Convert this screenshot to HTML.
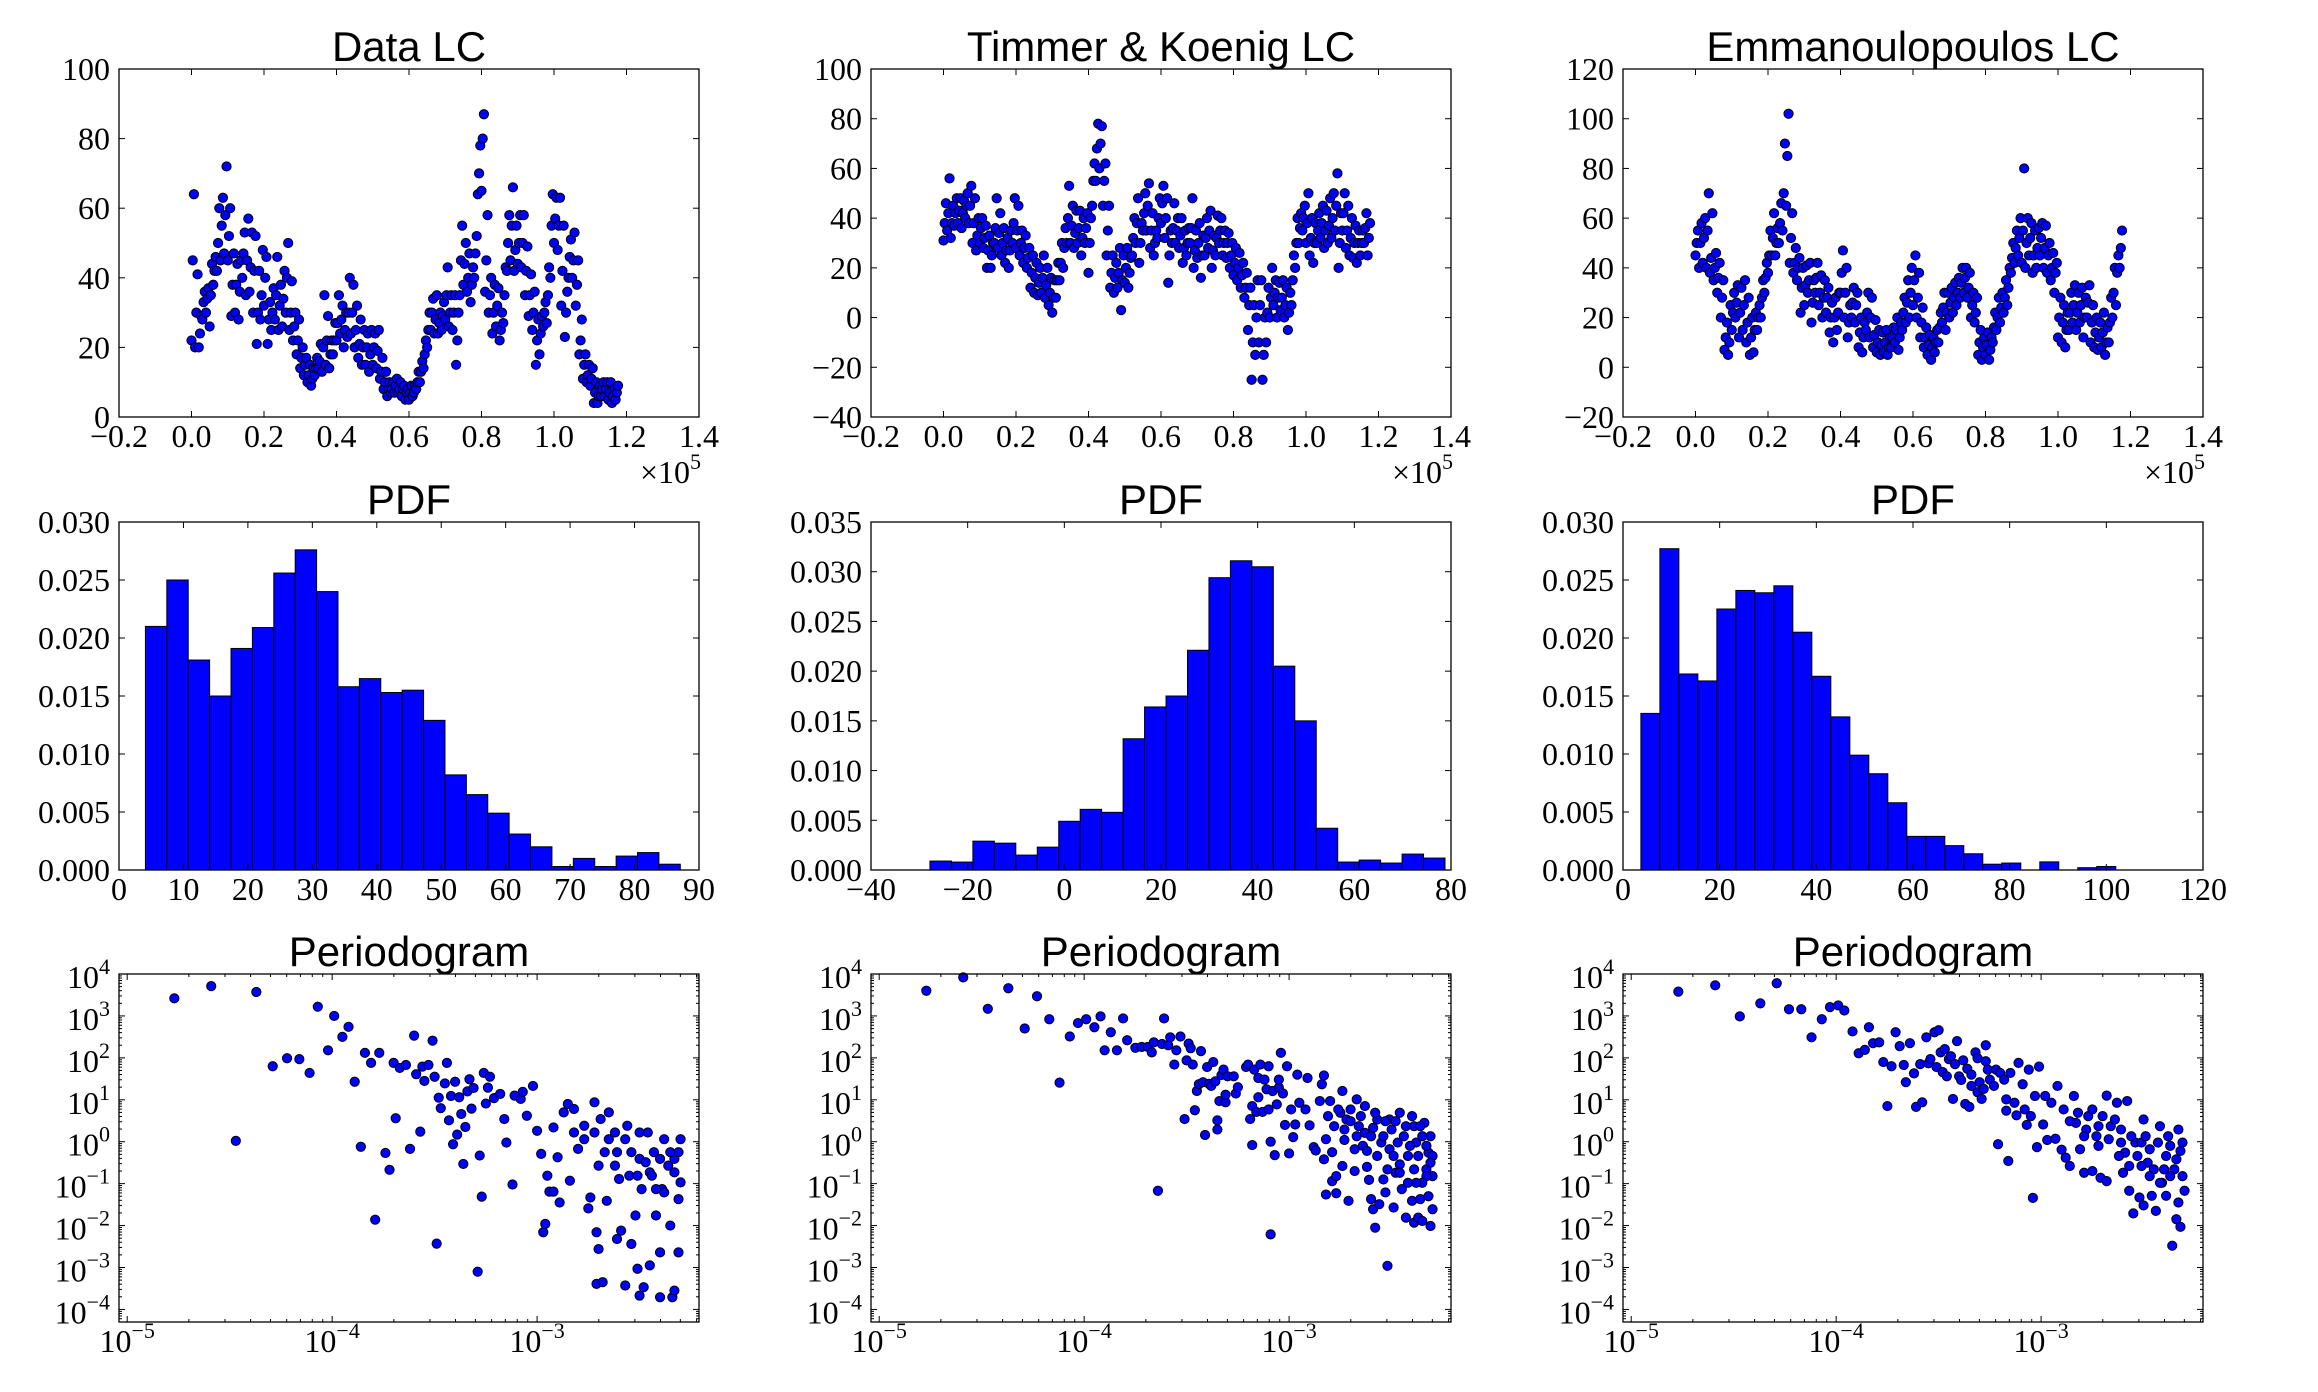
<!DOCTYPE html>
<html>
<head>
<meta charset="utf-8">
<style>
  html,body{margin:0;padding:0;background:#fff;}
  svg{display:block;}
  .tk{font-family:"Liberation Serif",serif;font-size:32px;fill:#000;}
  .ttl{font-family:"Liberation Sans",sans-serif;font-size:42px;fill:#000;}
</style>
</head>
<body>
<svg id="fig" width="2318" height="1392" viewBox="0 0 2318 1392" xmlns="http://www.w3.org/2000/svg">
  <rect x="0" y="0" width="2318" height="1392" fill="#fff"/>
</svg>
<script>
// ---------- DATA ----------
const lcStep = 1000/3;
const dataLC = [22,45,64,20,30,41,20,24,29,28,33,36,30,34,37,26,35,44,38,42,46,42,50,60,45,55,63,47,58,72,45,52,60,29,38,47,30,38,44,28,36,45,40,47,53,35,45,57,36,43,53,30,42,52,21,30,42,28,35,48,32,40,46,21,28,33,25,30,37,28,35,46,25,32,38,26,34,42,30,40,50,25,30,39,22,26,30,18,22,28,14,17,20,12,15,17,10,12,15,9,11,14,12,14,17,14,16,21,13,20,35,15,22,29,14,18,22,18,22,27,22,27,35,24,28,32,20,25,30,23,30,40,24,30,38,20,25,32,17,21,28,15,20,25,15,20,24,13,18,25,15,20,24,14,19,25,11,13,17,8,10,13,6,8,10,7,8,10,7,9,11,7,8,10,6,8,9,5,7,8,5,7,9,6,7,9,8,10,13,10,13,16,14,18,22,20,25,30,25,30,34,24,28,35,24,27,30,25,29,33,28,35,43,26,30,35,25,30,35,15,22,30,35,45,55,38,44,50,36,40,47,33,38,43,40,47,52,64,70,78,65,80,87,36,45,58,30,35,40,24,30,38,26,32,37,22,25,30,27,35,43,42,50,58,45,55,66,42,48,55,44,50,58,43,50,58,35,42,49,29,35,41,25,30,36,15,22,28,18,24,29,26,30,33,27,35,43,40,55,64,50,57,63,48,55,63,32,42,55,23,30,36,40,46,51,40,45,53,32,38,45,18,22,28,11,15,18,10,12,15,9,11,14,4,7,10,4,6,9,6,8,10,6,8,10,5,7,10,4,6,8,5,7,9];
const tkLC = [31,38,46,35,42,56,32,38,45,37,42,48,38,43,48,36,42,47,40,45,50,38,45,53,30,38,48,27,33,40,30,36,40,28,32,37,20,27,33,20,25,30,30,36,48,28,34,42,25,30,36,22,27,32,20,27,35,30,38,48,28,35,45,25,30,35,22,28,33,20,24,28,12,18,25,10,16,22,9,14,20,10,16,25,8,13,20,5,10,16,2,8,15,8,15,22,15,22,30,20,28,36,30,40,53,30,37,45,28,34,43,30,36,43,25,32,40,30,36,42,18,30,40,45,55,62,55,68,78,60,70,77,45,55,62,25,35,45,12,18,25,10,16,22,12,18,28,3,15,25,14,20,28,12,18,24,25,32,40,30,38,48,22,30,38,35,42,50,35,45,54,28,35,42,25,30,35,32,40,48,38,46,53,32,40,48,14,25,35,30,36,46,30,35,40,28,33,40,22,28,35,25,30,36,30,36,48,20,27,35,24,30,38,16,25,33,25,32,40,28,35,43,20,27,33,25,32,41,30,35,40,25,30,35,24,30,34,20,25,30,17,22,28,15,20,26,12,17,22,8,12,18,-5,5,12,-25,-10,5,-15,0,15,-10,5,15,-25,-15,0,-10,2,12,0,8,20,5,10,15,0,8,14,3,8,15,0,5,12,-5,2,10,5,15,25,20,30,40,30,36,42,35,40,45,30,38,50,25,32,40,22,30,38,30,35,42,32,38,45,28,35,43,30,37,48,32,40,50,35,45,58,20,30,42,35,42,50,28,35,45,25,32,40,24,30,37,22,30,35,25,30,35,30,36,42,25,32,38];
const emLC = [45,50,55,40,50,58,42,52,60,40,55,70,38,44,62,35,40,46,30,36,42,20,28,35,7,12,18,5,10,25,15,22,30,20,26,33,12,22,32,15,25,35,10,18,28,5,12,20,6,15,22,15,20,25,20,28,35,30,36,42,38,45,55,45,52,62,45,50,56,50,58,66,55,70,90,65,85,102,42,52,62,38,42,48,35,40,44,22,32,40,25,33,41,30,35,42,18,26,35,30,36,42,25,30,37,20,28,35,22,28,32,14,20,26,10,20,28,15,22,30,30,38,47,20,30,40,12,18,25,20,26,32,18,25,30,8,14,20,6,12,18,15,22,30,12,20,28,8,13,19,6,10,15,5,9,14,6,10,15,5,8,12,8,12,16,10,15,20,7,12,18,15,22,28,18,26,35,20,30,40,25,35,45,20,28,38,12,18,24,8,12,16,5,9,13,3,8,12,6,10,15,10,16,22,18,24,30,15,22,30,20,26,32,22,28,34,25,30,36,28,34,40,30,36,40,28,32,38,20,25,30,18,22,28,5,10,15,3,8,12,5,9,14,3,7,12,10,16,22,15,20,28,18,24,30,22,28,35,25,32,40,38,44,50,42,48,55,45,52,60,42,55,80,40,50,60,45,52,58,38,45,55,40,48,56,45,52,58,40,48,57,38,45,50,35,40,46,30,38,42,12,20,28,10,18,25,8,15,22,15,22,30,18,25,33,15,22,30,18,25,32,12,20,28,20,26,33,10,18,25,8,14,20,7,12,18,8,14,22,5,10,16,10,18,28,20,30,40,25,38,45,40,48,55];

const dataBinStart = 4.1, dataBinWidth = 3.32;
const dataPDF = [0.0210,0.0250,0.0181,0.0150,0.0191,0.0209,0.0256,0.0276,0.0240,0.0158,0.0165,0.0153,0.0155,0.0129,0.0082,0.0065,0.0049,0.0031,0.0020,0.0003,0.0010,0.0003,0.0012,0.0015,0.0005];
const tkBinStart = -27.8, tkBinWidth = 4.44;
const tkPDF = [0.0009,0.0008,0.0029,0.0027,0.0015,0.0023,0.0049,0.0061,0.0058,0.0132,0.0164,0.0175,0.0221,0.0294,0.0311,0.0305,0.0205,0.0150,0.0042,0.0008,0.0010,0.0007,0.0016,0.0012];
const emBinStart = 3.7, emBinWidth = 3.93;
const emPDF = [0.0135,0.0277,0.0169,0.0163,0.0225,0.0241,0.0239,0.0245,0.0205,0.0167,0.0132,0.0099,0.0083,0.0058,0.0029,0.0029,0.0021,0.0014,0.0005,0.0006,0,0.0007,0,0.0002,0.0003];

const pg1LogF = [-4.77,-4.59,-4.37,-4.47,-4.29,-4.22,-4.16,-4.11,-4.07,-4.02,-3.99,-3.95,-3.92,-3.89,-3.86,-3.84,-3.81,-3.79,-3.77,-3.74,-3.72,-3.70,-3.69,-3.67,-3.64,-3.62,-3.60,-3.59,-3.57,-3.56,-3.55,-3.53,-3.51,-3.50,-3.49,-3.48,-3.47,-3.45,-3.44,-3.43,-3.42,-3.41,-3.40,-3.39,-3.38,-3.37,-3.36,-3.35,-3.34,-3.33,-3.32,-3.31,-3.29,-3.28,-3.27,-3.26,-3.25,-3.24,-3.23,-3.21,-3.18,-3.16,-3.15,-3.12,-3.11,-3.08,-3.07,-3.05,-3.02,-3.00,-2.98,-2.97,-2.96,-2.95,-2.94,-2.92,-2.92,-2.90,-2.89,-2.87,-2.85,-2.84,-2.82,-2.80,-2.77,-2.75,-2.74,-2.72,-2.71,-2.70,-2.71,-2.68,-2.67,-2.66,-2.65,-2.62,-2.61,-2.60,-2.59,-2.57,-2.56,-2.55,-2.54,-2.52,-2.51,-2.50,-2.50,-2.49,-2.48,-2.46,-2.45,-2.45,-2.43,-2.42,-2.40,-2.40,-2.39,-2.38,-2.36,-2.35,-2.34,-2.33,-2.33,-2.31,-2.31,-2.30,-2.30,-2.82,-2.77,-2.72,-2.69,-2.65,-2.61,-2.57,-2.54,-2.50,-2.47,-2.44,-2.40,-2.38,-2.35,-2.31,-2.33,-2.42,-2.51,-2.62,-2.70];
const pg1LogP = [3.42,3.71,3.57,0.02,1.80,1.99,1.97,1.64,3.22,2.18,3.00,2.50,2.74,1.43,-0.12,2.12,1.88,-1.86,2.12,-0.27,-0.67,1.88,0.56,1.76,1.83,-0.17,2.53,1.61,0.24,1.79,1.45,1.83,2.41,1.55,-2.43,1.05,0.80,1.39,1.88,0.51,1.09,-0.06,1.43,0.17,1.06,0.66,-0.53,0.35,1.20,1.49,0.79,1.28,-3.10,-0.33,-1.31,1.64,0.91,1.29,1.55,1.04,1.14,0.54,-0.02,-1.02,1.10,1.02,1.19,0.62,1.33,0.26,-0.29,-2.16,-1.96,-0.81,-1.19,-1.19,0.34,-0.37,-1.45,0.70,0.90,-0.93,0.22,-0.17,0.38,-1.59,-1.33,0.94,-2.16,-2.56,-3.39,-3.35,-0.25,-1.41,0.70,0.22,-2.32,-0.89,-2.12,-3.43,0.38,-0.81,-2.44,-1.76,-3.03,-3.67,-0.41,-1.13,-3.47,0.22,-0.73,-2.95,-0.25,-1.76,-2.64,-3.71,-1.13,0.06,-0.57,-2.00,-3.71,-3.55,-0.41,-2.64,-0.25,-0.97,0.06,0.78,0.06,0.22,0.54,0.06,-0.25,0.06,-0.25,0.22,-0.49,-0.81,-0.41,-1.21,-0.25,-1.37,-0.73,-1.13,-0.81,-0.57,-0.57];
const pg2LogF = [-4.77,-4.59,-4.47,-4.37,-4.29,-4.23,-4.17,-4.12,-4.07,-4.03,-3.99,-3.95,-3.92,-3.90,-3.87,-3.84,-3.81,-3.79,-3.75,-3.72,-3.69,-3.67,-3.66,-3.64,-3.62,-3.61,-3.59,-3.58,-3.56,-3.55,-3.53,-3.51,-3.50,-3.49,-3.48,-3.47,-3.46,-3.45,-3.44,-3.43,-3.42,-3.41,-3.40,-3.39,-3.38,-3.37,-3.36,-3.35,-3.35,-3.34,-3.33,-3.32,-3.31,-3.31,-3.30,-3.27,-3.26,-3.25,-3.21,-3.20,-3.19,-3.18,-3.18,-3.17,-3.16,-3.15,-3.15,-3.14,-3.13,-3.12,-3.11,-3.10,-3.10,-3.09,-3.09,-3.08,-3.07,-3.06,-3.05,-3.05,-3.04,-3.03,-3.02,-3.01,-3.00,-2.99,-2.98,-2.97,-2.96,-2.95,-2.92,-2.91,-2.90,-2.88,-2.87,-2.85,-2.84,-2.83,-2.83,-2.82,-2.82,-2.80,-2.79,-2.79,-2.77,-2.77,-2.75,-2.74,-2.74,-2.73,-2.72,-2.71,-2.70,-2.68,-2.67,-2.66,-2.64,-2.62,-2.61,-2.60,-2.59,-2.58,-2.57,-2.56,-2.55,-2.54,-2.53,-2.52,-2.51,-2.49,-2.48,-2.46,-2.45,-2.44,-2.43,-2.42,-2.40,-2.39,-2.39,-2.38,-2.37,-2.36,-2.35,-2.34,-2.33,-2.32,-2.32,-2.31,-2.31,-2.30,-2.30,-2.30,-2.81,-2.78,-2.76,-2.73,-2.70,-2.67,-2.65,-2.63,-2.62,-2.59,-2.57,-2.54,-2.51,-2.50,-2.47,-2.46,-2.43,-2.41,-2.39,-2.37,-2.35,-2.33,-2.33,-2.31,-2.35,-2.38,-2.42,-2.46,-2.49,-2.52,-2.60,-2.68,-2.63,-2.58,-2.53,-2.48,-2.40,-2.36];
const pg2LogP = [3.60,3.92,3.17,3.66,2.70,3.47,2.92,1.41,2.51,2.83,2.92,2.73,2.99,2.18,2.61,2.18,2.94,2.42,2.24,2.26,2.26,2.13,2.37,-1.17,2.33,2.94,2.30,2.49,1.84,2.18,2.51,0.54,1.94,2.34,2.23,1.84,0.75,1.21,1.37,2.16,1.42,0.16,1.78,1.38,1.33,1.90,1.44,0.51,0.29,0.97,1.59,1.72,0.94,1.12,1.56,1.56,1.15,1.30,1.78,1.84,0.54,0.85,-0.08,1.72,0.71,1.52,1.06,1.84,0.71,1.48,1.25,0.77,1.80,-2.21,0.00,1.21,-0.32,0.89,1.29,1.48,2.12,1.15,0.40,1.80,-0.28,0.77,0.11,0.41,1.60,0.93,0.77,1.52,0.39,-0.13,-0.21,0.97,1.37,1.58,-0.42,-1.26,0.06,0.97,-0.25,-0.94,-1.23,-0.82,0.69,-0.58,1.21,0.04,0.53,-1.41,0.77,-0.70,1.01,0.37,-0.10,-0.60,-0.91,-1.37,-1.61,-2.05,0.53,-1.49,-0.02,-0.90,-1.21,-2.96,0.53,-1.57,-0.74,0.69,-1.13,0.13,-1.81,-0.34,-1.41,-1.93,0.37,-0.02,-1.81,-1.37,-1.89,0.45,-0.66,-0.26,-1.30,-2.01,0.13,-1.61,-0.34,-0.82,0.61,0.37,0.77,0.29,0.49,0.13,0.61,0.21,-0.22,0.33,-0.34,0.13,-0.18,0.29,-0.02,-0.54,0.37,-0.10,-0.66,-0.34,0.13,-0.10,-0.82,-0.50,-0.98,-0.98,-0.98,-0.74,-0.34,-0.66,0.13,-0.18,0.85,0.69,0.49,0.49,0.61,0.37];
const pg3LogF = [-4.77,-4.59,-4.47,-4.37,-4.29,-4.23,-4.17,-4.12,-4.07,-4.03,-3.99,-3.96,-3.92,-3.89,-3.86,-3.84,-3.82,-3.79,-3.77,-3.75,-3.73,-3.71,-3.69,-3.67,-3.66,-3.64,-3.62,-3.61,-3.59,-3.58,-3.56,-3.55,-3.54,-3.52,-3.51,-3.50,-3.49,-3.48,-3.47,-3.46,-3.45,-3.44,-3.43,-3.42,-3.41,-3.40,-3.39,-3.38,-3.37,-3.36,-3.35,-3.34,-3.34,-3.32,-3.31,-3.31,-3.30,-3.29,-3.28,-3.27,-3.27,-3.26,-3.25,-3.23,-3.22,-3.21,-3.20,-3.18,-3.17,-3.17,-3.16,-3.15,-3.13,-3.12,-3.11,-3.09,-3.08,-3.07,-3.06,-3.05,-3.04,-3.03,-3.02,-3.01,-2.99,-2.98,-2.97,-2.95,-2.93,-2.92,-2.90,-2.89,-2.88,-2.86,-2.84,-2.83,-2.81,-2.79,-2.77,-2.75,-2.73,-2.71,-2.68,-2.68,-2.66,-2.63,-2.61,-2.60,-2.58,-2.57,-2.55,-2.54,-2.52,-2.50,-2.50,-2.48,-2.46,-2.44,-2.42,-2.41,-2.39,-2.39,-2.38,-2.36,-2.35,-2.34,-2.33,-2.33,-2.32,-2.32,-2.31,-2.31,-2.30,-2.86,-2.82,-2.78,-2.75,-2.72,-2.70,-2.67,-2.64,-2.61,-2.59,-2.56,-2.53,-2.51,-2.49,-2.47,-2.45,-2.43,-2.40,-2.37,-2.34,-2.37,-2.42,-2.47,-2.51,-2.57,-2.62,-2.72,-2.79];
const pg3LogP = [3.58,3.73,2.99,3.30,3.78,3.16,3.16,2.49,2.92,3.21,3.25,3.13,2.63,2.11,2.19,2.73,2.35,2.37,1.90,0.85,1.80,2.61,2.28,1.83,1.42,2.35,1.63,0.83,1.85,0.94,2.49,1.87,1.97,2.61,1.78,2.66,2.13,1.66,2.21,1.56,1.97,2.04,1.02,1.85,2.40,1.56,1.47,1.94,0.90,1.74,0.83,1.60,1.33,2.13,1.18,1.99,1.42,1.02,1.26,1.92,2.30,1.72,1.48,1.33,1.72,-0.06,1.64,1.48,0.74,1.01,-0.46,1.64,0.93,0.63,1.88,1.37,0.77,0.40,1.72,0.61,-1.34,1.09,-0.13,1.79,0.41,1.09,0.04,0.93,0.07,1.33,-0.19,0.77,-0.38,-0.58,1.09,0.45,-0.18,-0.74,0.61,-0.70,0.13,-0.86,1.10,-0.94,0.37,0.93,-0.02,-0.74,0.97,-1.17,-1.71,-0.02,-1.33,0.53,-1.52,-0.50,-1.29,-1.65,0.37,-0.98,-0.34,-1.29,0.13,-2.48,-0.66,-1.85,0.29,-1.45,-0.22,-2.03,-0.82,-0.02,-1.17,0.49,0.69,0.29,0.77,0.37,0.61,0.06,0.53,0.29,-0.26,0.13,-0.34,-0.02,0.13,-0.18,-0.66,-0.02,-0.66,-0.10,-0.42,-0.82,-0.98,-0.82,-0.58,-0.58,-0.34,-0.10,0.13];

// ---------- RENDERING ----------
const svg = document.getElementById('fig');
const NS = svg.namespaceURI;
function add(parent, tag, attrs) {
  const el = document.createElementNS(NS, tag);
  for (const k in attrs) el.setAttribute(k, attrs[k]);
  parent.appendChild(el);
  return el;
}
const W = 580, H = 348;
const colL = [119, 871, 1623];
const rowT = [69, 522, 974];
const MAJ = 6, MIN = 3;
const DOT_R = 4.6;
const fmtMinus = s => String(s).replace('-', '\u2212');

function makePanel(name, L, T, x0, x1, y0, y1) {
  const g = add(svg, 'g', {});
  
  
  const sx = v => L + (v - x0) / (x1 - x0) * W;
  const sy = v => T + H - (v - y0) / (y1 - y0) * H;
  return {g, L, T, sx, sy};
}
function frame(p) {
  const r = add(p.g, 'rect', {x: p.L, y: p.T, width: W, height: H, fill: 'none', stroke: '#000', 'stroke-width': 1.3});
  
  
}
function title(p, txt) {
  const t = add(p.g, 'text', {x: p.L + W / 2, y: p.T - 8, 'text-anchor': 'middle', class: 'ttl'});
  t.textContent = txt;
  
  
}
function xTick(p, px, len) {
  const a = add(p.g, 'line', {x1: px, x2: px, y1: p.T + H, y2: p.T + H - len, stroke: '#000', 'stroke-width': 1});
  
  
  const b = add(p.g, 'line', {x1: px, x2: px, y1: p.T, y2: p.T + len, stroke: '#000', 'stroke-width': 1});
  
  
}
function yTick(p, py, len) {
  const a = add(p.g, 'line', {x1: p.L, x2: p.L + len, y1: py, y2: py, stroke: '#000', 'stroke-width': 1});
  
  
  const b = add(p.g, 'line', {x1: p.L + W, x2: p.L + W - len, y1: py, y2: py, stroke: '#000', 'stroke-width': 1});
  
  
}
function xLabel(p, px, txt) {
  const t = add(p.g, 'text', {x: px, y: p.T + H + 30, 'text-anchor': 'middle', class: 'tk'});
  t.textContent = txt;
  
  
}
function yLabel(p, py, txt) {
  const t = add(p.g, 'text', {x: p.L - 9, y: py + 11, 'text-anchor': 'end', class: 'tk'});
  t.textContent = txt;
  
  
}
function powLabel(p, x, y, exp, anchor) {
  const t = add(p.g, 'text', {x: x, y: y, 'text-anchor': anchor, class: 'tk'});
  const a = add(t, 'tspan', {});
  a.textContent = '10';
  const b = add(t, 'tspan', {dy: -14, 'font-size': 22});
  b.textContent = fmtMinus(exp);
  return t;
}
function dot(p, cx, cy, name) {
  const c = add(p.g, 'circle', {cx: cx, cy: cy, r: DOT_R, fill: '#0000ff', stroke: '#000', 'stroke-width': 1});
  
  
}

const lcX = [-0.2, 0, 0.2, 0.4, 0.6, 0.8, 1.0, 1.2, 1.4];
const lcPanels = [
  {name: 'data-lc-panel', title: 'Data LC', vals: dataLC, y0: 0, y1: 100, yt: [0, 20, 40, 60, 80, 100]},
  {name: 'timmer-koenig-lc-panel', title: 'Timmer & Koenig LC', vals: tkLC, y0: -40, y1: 100, yt: [-40, -20, 0, 20, 40, 60, 80, 100]},
  {name: 'emmanoulopoulos-lc-panel', title: 'Emmanoulopoulos LC', vals: emLC, y0: -20, y1: 120, yt: [-20, 0, 20, 40, 60, 80, 100, 120]}
];
lcPanels.forEach((cfg, i) => {
  const p = makePanel(cfg.name, colL[i], rowT[0], -0.2, 1.4, cfg.y0, cfg.y1);
  title(p, cfg.title);
  cfg.vals.forEach((v, k) => dot(p, p.sx(k * lcStep / 1e5), p.sy(v), 'lc-point'));
  frame(p);
  lcX.forEach(v => { xTick(p, p.sx(v), MAJ); xLabel(p, p.sx(v), fmtMinus(v.toFixed(1))); });
  cfg.yt.forEach(v => { yTick(p, p.sy(v), MAJ); yLabel(p, p.sy(v), fmtMinus(v)); });
  const off = powLabel(p, p.L + W + 2, p.T + H + 66, '5', 'end');
  off.firstChild.textContent = '\u00d710';
  
  
});

const pdfPanels = [
  {name: 'data-pdf-panel', vals: dataPDF, start: dataBinStart, w: dataBinWidth, x0: 0, x1: 90, xt: [0,10,20,30,40,50,60,70,80,90], y1: 0.030},
  {name: 'timmer-koenig-pdf-panel', vals: tkPDF, start: tkBinStart, w: tkBinWidth, x0: -40, x1: 80, xt: [-40,-20,0,20,40,60,80], y1: 0.035},
  {name: 'emmanoulopoulos-pdf-panel', vals: emPDF, start: emBinStart, w: emBinWidth, x0: 0, x1: 120, xt: [0,20,40,60,80,100,120], y1: 0.030}
];
pdfPanels.forEach((cfg, i) => {
  const p = makePanel(cfg.name, colL[i], rowT[1], cfg.x0, cfg.x1, 0, cfg.y1);
  title(p, 'PDF');
  cfg.vals.forEach((v, k) => {
    const a = p.sx(cfg.start + k * cfg.w), b = p.sx(cfg.start + (k + 1) * cfg.w);
    const r = add(p.g, 'rect', {x: a, y: p.sy(v), width: b - a, height: p.sy(0) - p.sy(v), fill: '#0000ff', stroke: '#000', 'stroke-width': 1});
    
    
  });
  frame(p);
  cfg.xt.forEach(v => { xTick(p, p.sx(v), MAJ); xLabel(p, p.sx(v), fmtMinus(v)); });
  for (let v = 0; v <= cfg.y1 + 1e-9; v += 0.005) { yTick(p, p.sy(v), MAJ); yLabel(p, p.sy(v), v.toFixed(3)); }
});

const pgPanels = [
  {name: 'data-periodogram-panel', f: pg1LogF, pw: pg1LogP},
  {name: 'timmer-koenig-periodogram-panel', f: pg2LogF, pw: pg2LogP},
  {name: 'emmanoulopoulos-periodogram-panel', f: pg3LogF, pw: pg3LogP}
];
const fx0 = -5.04, fx1 = -2.21, py0 = -4.3, py1 = 4.0;
pgPanels.forEach((cfg, i) => {
  const p = makePanel(cfg.name, colL[i], rowT[2], fx0, fx1, py0, py1);
  title(p, 'Periodogram');
  cfg.f.forEach((v, k) => dot(p, p.sx(v), p.sy(cfg.pw[k]), 'periodogram-point'));
  frame(p);
  for (let d = -6; d <= -2; d++) {
    for (let m = 1; m <= 9; m++) {
      const lv = d + Math.log10(m);
      if (lv < fx0 || lv > fx1) continue;
      xTick(p, p.sx(lv), m === 1 ? MAJ : MIN);
      if (m === 1) {
        const t = powLabel(p, p.sx(lv), p.T + H + 30, String(d), 'middle');
        
        
      }
    }
  }
  for (let d = -5; d <= 4; d++) {
    for (let m = 1; m <= 9; m++) {
      const lv = d + Math.log10(m);
      if (lv < py0 || lv > py1) continue;
      yTick(p, p.sy(lv), m === 1 ? MAJ : MIN);
      if (m === 1) {
        const t = powLabel(p, p.L - 9, p.sy(lv) + 14, String(d), 'end');
        
        
      }
    }
  }
});
</script>
</body>
</html>
